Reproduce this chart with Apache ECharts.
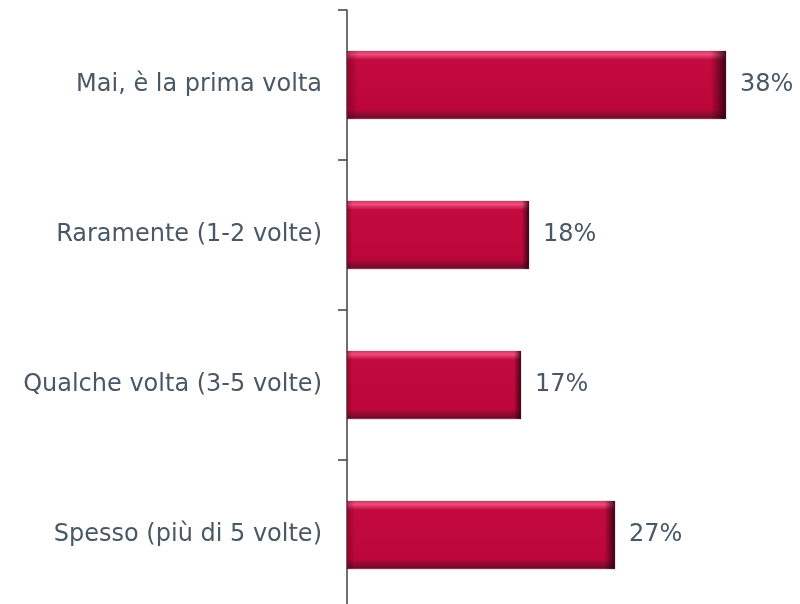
<!DOCTYPE html>
<html>
<head>
<meta charset="utf-8">
<script src="https://cdn.jsdelivr.net/npm/echarts@6/dist/echarts.min.js"></script>
<style>
  html, body { margin: 0; padding: 0; background: #fff; overflow: hidden; }
  #container { width: 800px; height: 610px; }
</style>
</head>
<body>
<div id="container"></div>
<script>
var categories = [
  'Mai, è la prima volta',
  'Raramente (1-2 volte)',
  'Qualche volta (3-5 volte)',
  'Spesso (più di 5 volte)'
];
var values = [37.9, 18.2, 17.4, 26.8];

var dom = document.getElementById('container');
var myChart = echarts.init(dom, null, { renderer: 'canvas' });

var labelColor = '#4a5866';

// bevel look: light top rim, dark bottom rim
var barFill = new echarts.graphic.LinearGradient(0, 0, 0, 1, [
  { offset: 0, color: '#d4386a' },
  { offset: 0.05, color: '#ee4c7a' },
  { offset: 0.13, color: '#c20a3e' },
  { offset: 0.86, color: '#bc063a' },
  { offset: 0.93, color: '#8e0a32' },
  { offset: 1, color: '#6a0a28' }
]);
// dark edges overlay
var edgeFill = new echarts.graphic.LinearGradient(0, 0, 1, 0, [
  { offset: 0, color: 'rgba(60,0,20,0.35)' },
  { offset: 0.03, color: 'rgba(60,0,20,0)' },
  { offset: 0.96, color: 'rgba(40,0,10,0)' },
  { offset: 1, color: 'rgba(30,0,10,0.8)' }
]);

var option = {
  animation: false,
  grid: { left: 347, right: 53, top: 10, bottom: 0, containLabel: false },
  xAxis: {
    type: 'value',
    min: 0,
    max: 40,
    show: false
  },
  yAxis: {
    type: 'category',
    data: categories,
    inverse: true,
    axisLine: { show: true, lineStyle: { color: '#404040', width: 1.5 } },
    axisTick: { show: true, length: 9, lineStyle: { color: '#404040', width: 1.5 } },
    axisLabel: {
      color: labelColor,
      fontSize: 24,
      fontFamily: 'DejaVu Sans',
      margin: 25
    }
  },
  series: [
    {
      type: 'bar',
      data: values,
      barWidth: 68,
      itemStyle: {
        color: barFill,
        borderColor: '#8a0a30',
        borderWidth: 0.5
      },
      label: {
        show: true,
        position: 'right',
        distance: 14,
        color: labelColor,
        fontSize: 24,
        fontFamily: 'DejaVu Sans',
        formatter: function (p) { return Math.round(p.value) + '%'; }
      }
    },
    {
      type: 'bar',
      data: values,
      barWidth: 68,
      barGap: '-100%',
      silent: true,
      itemStyle: { color: edgeFill }
    }
  ]
};

myChart.setOption(option);
window.addEventListener('resize', myChart.resize);
</script>
</body>
</html>
